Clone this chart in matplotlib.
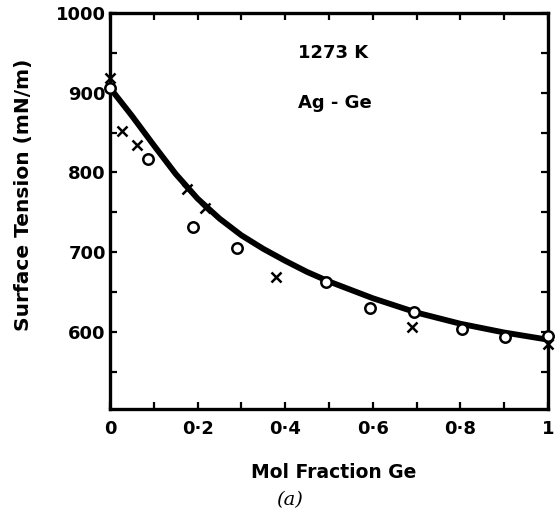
import numpy as np
import matplotlib.pyplot as plt
from matplotlib.ticker import MultipleLocator, FixedLocator, FixedFormatter

# Ag-Ge surface tension at 1273 K
circle_x = [0.0, 0.087, 0.189, 0.29, 0.493, 0.594, 0.694, 0.804, 0.902, 1.0]
circle_y = [906, 817, 732, 705, 663, 630, 625, 603, 593, 595]

cross_x = [0.0, 0.027, 0.062, 0.175, 0.217, 0.38, 0.69, 1.0]
cross_y = [918, 852, 834, 779, 755, 669, 606, 584]

# calculated isotherm
curve_x = [0.0, 0.05, 0.1, 0.15, 0.2, 0.25, 0.3, 0.35, 0.4, 0.45,
           0.5, 0.6, 0.7, 0.8, 0.9, 1.0]
curve_y = [906, 871, 834, 798, 767, 742, 721, 704, 689, 675,
           663, 642, 624, 610, 599, 590]

x_ticks = [0, 0.2, 0.4, 0.6, 0.8, 1.0]
x_tick_labels = ["0", "0·2", "0·4", "0·6", "0·8", "1"]
y_ticks = [600, 700, 800, 900, 1000]

plt.rcParams["font.family"] = "DejaVu Sans"

fig = plt.figure(figsize=(5.58, 5.13), dpi=100, facecolor="white")
ax = fig.add_axes([110 / 558, 1 - 409 / 513, 438 / 558, 396 / 513])

ax.plot(curve_x, curve_y, color="black", lw=4.2, solid_capstyle="round",
        solid_joinstyle="round", zorder=2)
ax.plot(circle_x, circle_y, linestyle="none", marker="o", ms=7.5, mfc="white",
        mec="black", mew=1.8, zorder=3, clip_on=False)
ax.plot(cross_x, cross_y, linestyle="none", marker="x", ms=6.5, color="black",
        mew=1.8, zorder=3, clip_on=False)

ax.set_xlim(0, 1)
ax.set_ylim(503, 1000)

ax.xaxis.set_major_locator(FixedLocator(x_ticks))
ax.xaxis.set_major_formatter(FixedFormatter(x_tick_labels))
ax.xaxis.set_minor_locator(MultipleLocator(0.1))
ax.yaxis.set_major_locator(FixedLocator(y_ticks))
ax.yaxis.set_minor_locator(MultipleLocator(50))

for s in ax.spines.values():
    s.set_linewidth(2.4)

ax.tick_params(which="both", direction="in", top=True, right=True,
               length=5, width=1.6, labelsize=13)
ax.tick_params(axis="y", pad=3)
ax.tick_params(axis="x", pad=8)
for lab in ax.get_xticklabels() + ax.get_yticklabels():
    lab.set_fontweight("bold")

ax.set_ylabel("Surface Tension (mN/m)", fontsize=14.5, fontweight="bold")
ax.yaxis.set_label_coords(-0.175, (409 - 195) / 396)
ax.set_xlabel("Mol Fraction Ge", fontsize=13.5, fontweight="bold")
ax.xaxis.set_label_coords((334 - 110) / 438, -(473 - 409) / 396)
ax.xaxis.label.set_va("center")

ax.text(0.43, 0.899, "1273 K", transform=ax.transAxes, fontsize=13,
        fontweight="bold", ha="left", va="center")
ax.text(0.43, 0.773, "Ag - Ge", transform=ax.transAxes, fontsize=13,
        fontweight="bold", ha="left", va="center")

fig.text(290 / 558, 1 - 500 / 513, "(a)", fontsize=14, style="italic",
         family="DejaVu Serif", ha="center", va="center")

fig.savefig("out.png", dpi=100, facecolor="white")
